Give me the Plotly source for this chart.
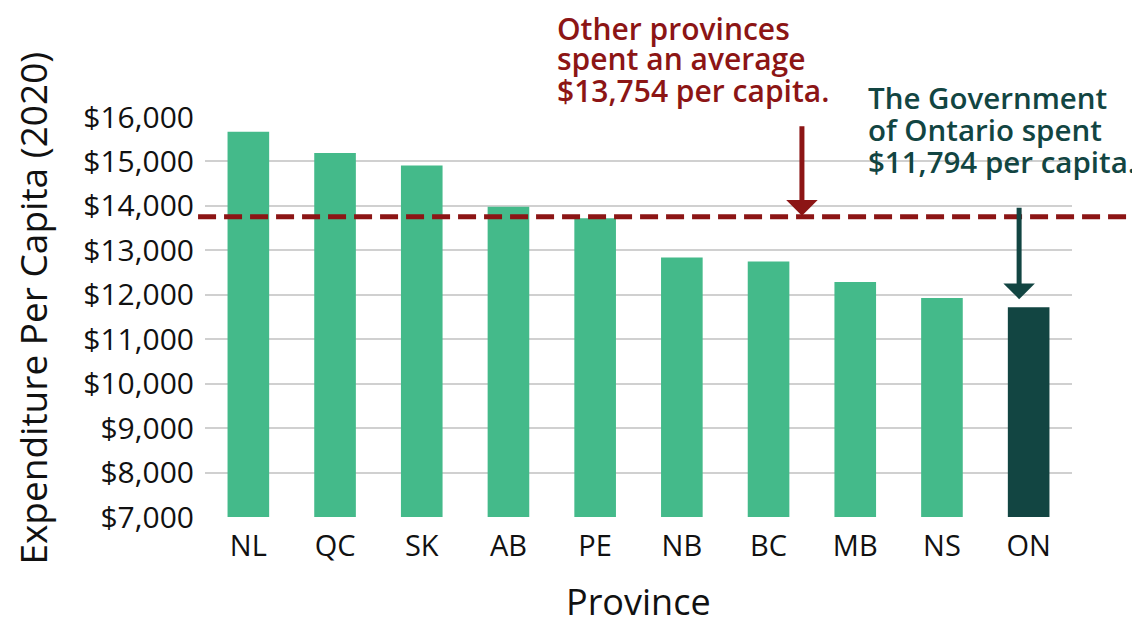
import plotly.graph_objects as go

provinces = ["NL", "QC", "SK", "AB", "PE", "NB", "BC", "MB", "NS", "ON"]
spending = [15670, 15190, 14910, 13980, 13720, 12840, 12750, 12290, 11930, 11720]
avg_other = 13754
ontario = 11794
y_ticks = [7000, 8000, 9000, 10000, 11000, 12000, 13000, 14000, 15000, 16000]
y_tick_labels = [f"${v:,}" for v in y_ticks]

red_note = ["Other provinces", "spent an average", f"${avg_other:,} per capita."]
green_note = ["The Government", "of Ontario spent", f"${ontario:,} per capita."]

GREEN = "#44BA8A"
DARK = "#124542"
RED = "#8C1515"
FONT = "Open Sans"

colors = [DARK if p == "ON" else GREEN for p in provinces]

fig = go.Figure()
fig.add_trace(go.Bar(x=provinces, y=spending, marker=dict(color=colors, line=dict(width=0)),
                     hoverinfo="x+y"))

fig.add_shape(type="line", xref="paper", yref="y", x0=-0.008, x1=1.073, y0=avg_other, y1=avg_other,
              line=dict(color=RED, width=5, dash="18px,8px"), layer="above")

fig.add_annotation(x=6.385, y=avg_other, xref="x", yref="y", text="", showarrow=True,
                   ax=0, ay=-92, arrowcolor=RED, arrowwidth=5, arrowhead=1, arrowsize=1.05, standoff=1)
fig.add_annotation(x=8.89, y=spending[-1], xref="x", yref="y", text="", showarrow=True,
                   ax=0, ay=-101, arrowcolor=DARK, arrowwidth=5, arrowhead=1, arrowsize=1.05, standoff=8)

for line, yy in zip(red_note, [1.2225, 1.1475, 1.0675]):
    fig.add_annotation(xref="paper", yref="paper", x=0.4037, y=yy, xanchor="left", yanchor="middle",
                       showarrow=False, text=line,
                       font=dict(family=FONT, size=30, color=RED, weight=600))
for line, yy in zip(green_note, [1.0475, 0.9675, 0.89]):
    fig.add_annotation(xref="paper", yref="paper", x=0.762, y=yy, xanchor="left", yanchor="middle",
                       showarrow=False, text=line,
                       font=dict(family=FONT, size=29.5, color=DARK, weight=600))

fig.add_annotation(xref="paper", yref="paper", x=-0.2, y=0.5225, xanchor="center", yanchor="middle",
                   textangle=-90, showarrow=False, text="Expenditure Per Capita (2020)",
                   font=dict(family=FONT, size=37, color="#111111"))
fig.add_annotation(xref="paper", yref="paper", x=0.5, y=-0.21, xanchor="center", yanchor="middle",
                   showarrow=False, text="Province",
                   font=dict(family=FONT, size=36, color="#111111"))

fig.update_layout(
    width=1132, height=614,
    margin=dict(l=197, r=68, t=109, b=105),
    plot_bgcolor="white", paper_bgcolor="white",
    bargap=0.52, showlegend=False,
    font=dict(family=FONT, color="#111111"),
)
fig.update_xaxes(tickfont=dict(size=29), showgrid=False, ticks="", showline=False,
                 automargin=False, ticklabelstandoff=9)
fig.update_yaxes(range=[7000, 16000], tickvals=y_ticks, ticktext=y_tick_labels,
                 tickfont=dict(size=30), gridcolor="#D0D0D0", gridwidth=1.5,
                 zeroline=False, showline=False, automargin=False, ticklabelstandoff=10)

fig.write_html("out.html")
